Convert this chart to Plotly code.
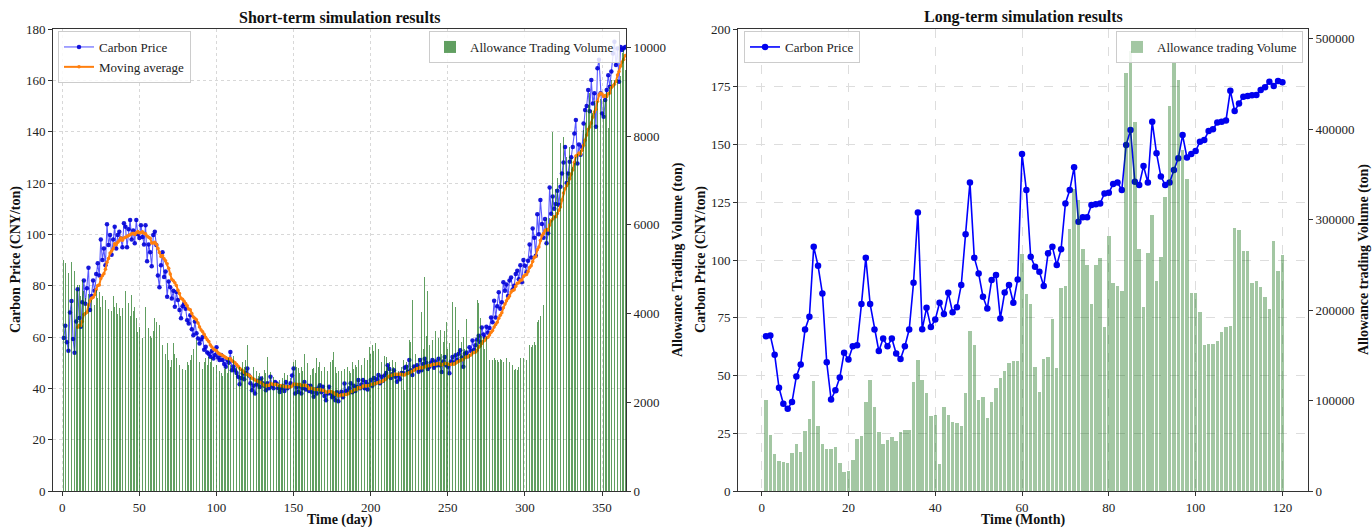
import plotly.graph_objects as go
import pandas as pd

# ---------------- short-term (daily) simulation ----------------
short_price = [
    59.6, 64.4, 58.0, 54.6, 69.5, 74.0, 59.2, 53.9, 66.0, 78.6,
    67.4, 64.0, 73.5, 82.0, 73.0, 79.0, 87.0, 70.5, 76.0, 82.0,
    78.0, 84.5, 88.7, 84.0, 98.0, 90.0, 94.5, 88.0, 103.9, 95.8,
    99.7, 92.0, 98.0, 103.0, 94.5, 99.7, 101.0, 98.4, 95.0, 104.3,
    103.0, 95.0, 102.0, 105.6, 98.0, 101.5, 96.5, 105.6, 100.0, 98.6,
    103.5, 99.0, 96.0, 103.5, 89.5, 96.0, 93.0, 87.6, 99.7, 101.0,
    95.8, 84.0, 79.4, 88.0, 93.0, 83.4, 85.5, 75.7, 81.6, 79.4,
    75.0, 78.0, 71.8, 77.5, 74.4, 70.5, 67.3, 72.0, 73.0, 71.0,
    66.5, 65.3, 68.5, 63.0, 60.7, 66.0, 61.5, 59.4, 57.5, 59.0,
    60.0, 55.0, 56.2, 54.0, 53.5, 52.3, 54.5, 51.6, 53.0, 56.0,
    52.0, 51.0, 53.0, 51.0, 49.5, 48.4, 51.0, 50.0, 54.2, 47.0,
    48.5, 47.0, 46.0, 44.5, 41.6, 44.0, 45.8, 43.5, 46.0, 47.7,
    45.0, 42.0, 39.3, 41.0, 38.0, 41.5, 43.0, 40.5, 43.8, 42.0,
    41.0, 39.3, 42.0, 40.0, 44.5, 41.0, 40.0, 42.5, 41.9, 40.0,
    38.6, 40.0, 41.0, 39.0, 42.5, 40.0, 40.6, 42.0, 45.0, 47.7,
    38.0, 40.5, 38.6, 41.0, 38.0, 40.0, 42.5, 39.5, 41.0, 39.0,
    41.0, 38.5, 36.7, 39.5, 38.0, 40.0, 41.2, 38.5, 40.6, 37.0,
    35.4, 38.0, 40.6, 38.0, 36.5, 37.0, 35.4, 38.5, 35.0, 37.5,
    38.7, 36.5, 41.9, 39.0, 38.5, 40.0, 42.0, 38.5, 41.0, 39.0,
    40.5, 43.2, 40.0, 41.5, 43.2, 40.0, 42.5, 39.5, 41.5, 43.2,
    41.0, 44.0, 42.0, 43.5, 45.2, 42.0, 44.5, 43.0, 45.0, 46.0,
    49.0, 47.5, 44.0, 45.5, 47.0, 44.5, 42.6, 45.0, 43.5, 46.0,
    46.0, 48.0, 48.4, 46.5, 51.0, 47.0, 45.2, 48.5, 47.7, 49.0,
    46.5, 51.0, 47.0, 49.5, 51.5, 50.0, 47.5, 48.4, 50.0, 51.0,
    48.0, 50.5, 49.0, 51.5, 49.0, 46.4, 50.5, 52.2, 49.0, 48.4,
    45.9, 50.5, 52.2, 50.0, 52.9, 51.0, 53.5, 54.8, 52.0, 48.4,
    53.5, 54.0, 52.5, 56.0, 54.5, 58.6, 55.0, 56.8, 59.0, 60.5,
    58.0, 63.7, 61.0, 59.8, 64.0, 61.7, 63.5, 67.6, 65.7, 74.1,
    67.6, 72.0, 77.4, 71.0, 73.5, 81.3, 78.0, 80.5, 76.0, 82.0,
    83.2, 78.5, 80.0, 84.5, 85.8, 82.5, 88.0, 81.3, 90.0, 87.8,
    85.2, 89.7, 96.0, 91.0, 102.3, 98.7, 91.7, 107.8, 100.0, 113.4,
    104.0, 98.7, 106.0, 96.5, 100.4, 118.2, 108.0, 114.7, 110.0, 111.8,
    117.0, 111.5, 118.5, 123.7, 128.0, 134.0, 120.0, 123.7, 128.3, 130.0,
    134.0, 139.3, 144.5, 127.6, 135.0, 131.0, 134.0, 143.2, 148.4, 150.0,
    156.2, 148.0, 160.1, 151.0, 155.0, 141.9, 164.7, 168.0, 155.0, 147.1,
    145.8, 152.3, 156.2, 162.0, 157.5, 163.4, 170.5, 175.0, 166.0, 172.4,
    159.4, 173.0, 171.8, 172.5, 173.0,
]

short_volume = [
    5200, 5150, 4700, 4910, 4600, 5170, 4750, 4950, 4500, 4650,
    4650, 4400, 4760, 4500, 4350, 4680, 4450, 4900, 4300, 4460,
    4200, 4530, 4350, 4490, 4150, 4400, 4250, 4300, 4530, 4100,
    4230, 4050, 4400, 4150, 4230, 4000, 4120, 3950, 4120, 4300,
    4500, 4100, 4230, 3950, 4420, 4050, 4160, 3900, 3590, 3700,
    3500, 3440, 3600, 4160, 3900, 3670, 3500, 3440, 3600, 3900,
    3800, 3650, 3740, 3500, 3300, 2800, 3100, 3330, 2950, 2800,
    2950, 3330, 3100, 3000, 3100, 2850, 2880, 2750, 2800, 2730,
    2900, 2840, 2950, 3060, 3200, 3850, 3400, 3220, 2900, 2620,
    2750, 2900, 2990, 2850, 3030, 2900, 2990, 2800, 2950, 2850,
    2800, 2700, 2650, 2600, 2750, 2800, 2650, 2990, 2850, 3210,
    3050, 2950, 2800, 2850, 2800, 2750, 2920, 2800, 2950, 3290,
    3100, 2580, 3070, 2800, 2650, 2700, 2600, 2650, 2540, 2600,
    2730, 2650, 3030, 2800, 2690, 2600, 2580, 2500, 2450, 2390,
    2500, 2390, 2550, 2650, 2500, 2620, 2700, 2550, 3030, 2900,
    2950, 2800, 2770, 2650, 2800, 2700, 3100, 2850, 2880, 2700,
    2620, 2750, 2770, 2650, 2990, 2800, 2920, 2700, 2650, 2800,
    2950, 2700, 3100, 2900, 2950, 3140, 2800, 2650, 2700, 2600,
    2700, 2600, 2750, 2650, 2800, 2700, 2650, 2900, 2750, 2850,
    2800, 2950, 2700, 2850, 2900, 3000, 2850, 2950, 3250, 3100,
    3300, 3150, 3330, 3000, 3200, 2850, 2900, 2950, 3050, 3020,
    2800, 2900, 2750, 2950, 2800, 2900, 2850, 2700, 3020, 2800,
    2950, 2280, 2900, 2850, 3400, 3350, 4300, 3000, 3100, 3330,
    3000, 3150, 4040, 3200, 4820, 3500, 4520, 3300, 4200, 3400,
    3300, 3600, 3200, 3450, 3640, 3100, 3350, 3600, 3800, 3200,
    3330, 3100, 4270, 3300, 4160, 3200, 3640, 3100, 3350, 3470,
    3200, 3880, 3300, 3100, 3850, 3200, 4330, 3400, 4300, 4250,
    3900, 3500, 3470, 3200, 3470, 3000, 2960, 2900, 2950, 3000,
    2950, 2960, 2900, 2980, 2950, 2900, 2960, 3000, 2850, 2900,
    2800, 2850, 2720, 2750, 2720, 2800, 3000, 2950, 3000, 2900,
    2950, 2950, 3300, 3250, 3300, 3350, 3300, 3800, 3850, 3950,
    3900, 4200, 4700, 6150, 5200, 6150, 6100, 8100, 6200, 6800,
    7050, 6900, 7840, 7300, 7990, 7400, 7540, 7200, 7760, 7500,
    7310, 7400, 7540, 7600, 7760, 7700, 7900, 8140, 8300, 8590,
    8700, 8970, 8600, 8520, 8800, 8670, 8800, 8700, 8850, 8900,
    8850, 8820, 9000, 8180, 9100, 9260, 9200, 9260, 9250, 9300,
    9300, 9350, 9870, 9940, 9500,
]

# ---------------- long-term (monthly) simulation ----------------
long_price = [
    67.0, 67.3, 59.0, 44.7, 37.8, 35.6, 38.5, 49.6, 54.8, 69.9,
    75.4, 105.7, 97.5, 85.5, 55.7, 39.6, 43.6, 49.1, 59.8, 56.9,
    62.7, 63.1, 80.9, 101.0, 80.9, 69.9, 60.6, 66.0, 62.7, 66.0,
    59.5, 57.1, 62.7, 69.9, 90.1, 120.6, 70.0, 79.3, 71.0, 74.2,
    81.5, 76.6, 85.8, 77.4, 79.5, 89.2, 111.1, 133.6, 101.0, 94.2,
    84.1, 79.0, 91.3, 93.5, 74.7, 85.9, 89.2, 81.5, 91.6, 145.9,
    130.3, 101.4, 97.1, 94.9, 88.7, 102.9, 105.7, 97.8, 104.6, 124.5,
    130.3, 140.1, 116.6, 118.5, 118.5, 123.8, 124.1, 124.5, 128.8, 129.1,
    132.9, 133.5, 130.3, 149.8, 156.3, 133.9, 132.5, 140.7, 133.5, 159.9,
    146.2, 136.1, 132.5, 133.5, 139.0, 144.0, 154.1, 144.4, 145.9, 147.2,
    151.2, 152.0, 155.8, 156.6, 159.5, 159.9, 160.4, 173.3, 164.5, 167.8,
    170.7, 171.0, 171.3, 171.4, 173.6, 174.8, 177.2, 175.3, 177.5, 177.0,
]

long_volume = [
    100400, 62000, 41300, 33200, 32100, 31400, 41700, 52400, 43500, 66400,
    79400, 122000, 72000, 51700, 46100, 46100, 49100, 31400, 21400, 22200,
    34400, 57300, 61000, 97800, 122600, 92400, 65700, 52400, 56100, 59800,
    55400, 65700, 67200, 67200, 120700, 144700, 122600, 108500, 83100, 84200,
    30300, 92400, 83800, 76800, 75300, 71600, 108500, 176400, 161600, 100400,
    104100, 81200, 98900, 113300, 124700, 132100, 141000, 143900, 143900, 262100,
    217800, 206700, 137300, 108900, 145400, 148400, 190100, 135500, 224000, 227000,
    290000, 333400, 321600, 267700, 249200, 206700, 249400, 258000, 180900, 281300,
    229600, 227000, 220700, 461500, 486100, 407600, 267700, 203000, 262800, 304500,
    232600, 258100, 325300, 425300, 472500, 454100, 376500, 345100, 218500, 218500,
    197500, 161700, 162400, 162400, 166100, 175300, 180900, 182700, 290400, 288600,
    265700, 265700, 229600, 231800, 225200, 214800, 201200, 276700, 243500, 261200,
]

short_ticks_x = [0, 50, 100, 150, 200, 250, 300, 350]
short_ticks_price = [0, 20, 40, 60, 80, 100, 120, 140, 160, 180]
short_ticks_volume = [0, 2000, 4000, 6000, 8000, 10000]
long_ticks_x = [0, 20, 40, 60, 80, 100, 120]
long_ticks_price = [0, 25, 50, 75, 100, 125, 150, 175, 200]
long_ticks_volume = [0, 100000, 200000, 300000, 400000, 500000]

days = list(range(1, len(short_price) + 1))
months = list(range(1, len(long_price) + 1))
short_ma = pd.Series(short_price).rolling(10).mean().tolist()

W, H = 1372, 531
SERIF = "Liberation Serif"

def px(v):
    return v / W

def py(v):
    return 1 - v / H

fig = go.Figure()

fig.add_trace(go.Scatter(
    x=days, y=short_price, mode="lines+markers", name="Carbon Price",
    line=dict(color="rgba(0,0,255,0.65)", width=1.1),
    marker=dict(color="rgba(0,0,215,0.9)", size=4.5),
    xaxis="x", yaxis="y", legend="legend",
))
fig.add_trace(go.Scatter(
    x=days, y=short_ma, mode="lines+markers", name="Moving average",
    line=dict(color="#ff7f0e", width=2),
    marker=dict(color="#ff7f0e", size=3.5),
    xaxis="x", yaxis="y", legend="legend",
))
fig.add_trace(go.Bar(
    x=days, y=short_volume, name="Allowance Trading Volume",
    marker=dict(color="rgba(0,100,0,0.62)", line=dict(width=0)),
    width=0.5, xaxis="x", yaxis="y2", legend="legend2",
))
fig.add_trace(go.Scatter(
    x=months, y=long_price, mode="lines+markers", name="Carbon Price",
    line=dict(color="#0000ff", width=1.6),
    marker=dict(color="#0000ee", size=6.5),
    xaxis="x2", yaxis="y3", legend="legend3",
))
fig.add_trace(go.Bar(
    x=months, y=long_volume, name="Allowance trading Volume",
    marker=dict(color="rgba(0,100,0,0.36)", line=dict(width=0)),
    width=0.8, xaxis="x2", yaxis="y4", legend="legend4",
))

tickfont = dict(family=SERIF, size=13, color="#222")
common = dict(showline=True, linecolor="#333", linewidth=1, ticks="outside",
              ticklen=4, tickcolor="#333", tickfont=tickfont, zeroline=False,
              automargin=False)
grid_l = dict(showgrid=True, gridcolor="#d8d8d8", gridwidth=0.8, griddash="dot")
grid_r = dict(showgrid=True, gridcolor="#dddddd", gridwidth=0.8, griddash="dash")

legend_style = dict(bgcolor="rgba(255,255,255,0.85)", bordercolor="#cccccc", borderwidth=1,
                    font=dict(family=SERIF, size=13, color="#222"))

ydom = [py(491), py(29)]
fig.update_layout(
    width=W, height=H,
    margin=dict(l=0, r=0, t=0, b=0, pad=0, autoexpand=False),
    paper_bgcolor="white", plot_bgcolor="white",
    font=dict(family=SERIF, size=13, color="#222"),
    bargap=0,
    xaxis=dict(domain=[px(53), px(626)], range=[-6, 365.5], tickvals=short_ticks_x,
               anchor="y", mirror=True, **common, **grid_l),
    yaxis=dict(domain=ydom, range=[0, 180], tickvals=short_ticks_price,
               anchor="x", mirror=True, **common, **grid_l),
    yaxis2=dict(overlaying="y", side="right", anchor="x", range=[0, 10417],
                tickvals=short_ticks_volume, tickformat="d", showgrid=False, **common),
    xaxis2=dict(domain=[px(738), px(1308)], range=[-5.45, 125.9], tickvals=long_ticks_x,
                anchor="y3", mirror=True, **common, **grid_r),
    yaxis3=dict(domain=ydom, range=[0, 200], tickvals=long_ticks_price,
                anchor="x2", mirror=True, **common, **grid_r),
    yaxis4=dict(overlaying="y3", side="right", anchor="x2", range=[0, 510500],
                tickvals=long_ticks_volume, tickformat="d", showgrid=False, **common),
    legend=dict(x=px(58), y=py(31), xanchor="left", yanchor="top", tracegroupgap=2,
                **legend_style),
    legend2=dict(x=px(620), y=py(31), xanchor="right", yanchor="top", **legend_style),
    legend3=dict(x=px(744), y=py(31), xanchor="left", yanchor="top", **legend_style),
    legend4=dict(x=px(1303), y=py(31), xanchor="right", yanchor="top", **legend_style),
    showlegend=True,
)

def label(text, x, y, size=14, angle=0):
    fig.add_annotation(text=f"<b>{text}</b>", x=px(x), y=py(y), xref="paper", yref="paper",
                       showarrow=False, textangle=angle, xanchor="center", yanchor="middle",
                       font=dict(family=SERIF, size=size, color="#111"))

label("Short-term simulation results", 339.5, 17, size=16)
label("Long-term simulation results", 1023, 17, size=16)
label("Time (day)", 339.5, 520)
label("Time (Month)", 1023, 520)
label("Carbon Price (CNY/ton)", 16, 260, angle=-90)
label("Allowance Trading Volume (ton)", 678, 260, angle=-90)
label("Carbon Price (CNY/ton)", 701, 260, angle=-90)
label("Allowance trading Volume (ton)", 1364, 260, angle=-90)

fig.write_html("out.html")
